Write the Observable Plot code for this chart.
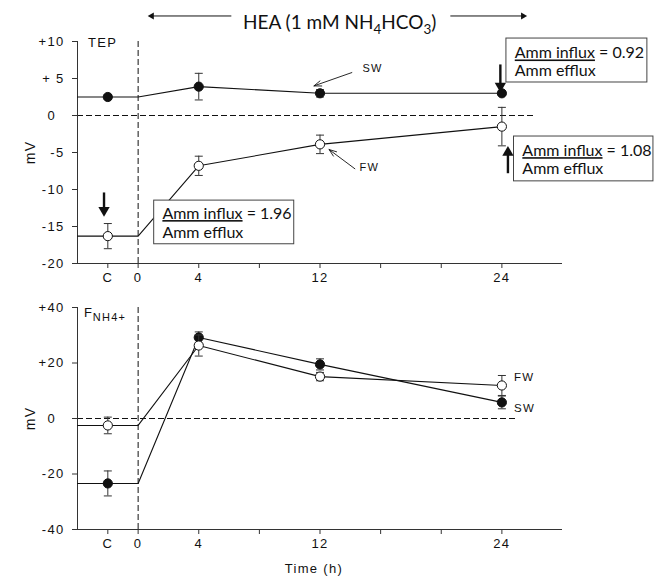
<!DOCTYPE html>
<html><head><meta charset="utf-8">
<script src="https://cdn.jsdelivr.net/npm/d3@7"></script>
<script src="https://cdn.jsdelivr.net/npm/@observablehq/plot@0.6"></script>
<style>
body{margin:0;background:#fff}
#chart{width:654px;height:583px;position:relative}
#chart svg{display:block;overflow:visible}
#chart svg text{letter-spacing:1.3px}
#chart g[font-family^="Lato"] text{letter-spacing:0}
</style></head><body><div id="chart"></div>
<script>
// ---- data ----
const xTicks = [-2, 0, 4, 8, 12, 16, 20, 24];
const xTickLabels = ["C", "0", "4", "", "12", "", "", "24"];
const sampleTimes = [-2, 4, 12, 24]; // -2 = control "C"
const tepSW = [2.5, 3.9, 3.0, 3.0];
const tepSWErr = [0.3, 1.8, 0.5, 0.3];
const tepFW = [-16.3, -6.8, -3.9, -1.5];
const tepFWErr = [1.7, 1.3, 1.25, 2.6];
const fluxSW = [-23.4, 29.2, 19.5, 5.8];
const fluxSWErr = [4.5, 2.0, 2.0, 2.3];
const fluxFW = [-2.5, 26.3, 15.1, 11.9];
const fluxFWErr = [3.0, 3.8, 1.5, 3.6];
const tepYTicks = [10, 5, 0, -5, -10, -15, -20];
const tepYLabels = ["+10", "+ 5", "0\u2007", "-5", "-10", "-15", "-20"];
const fluxYTicks = [40, 20, 0, -20, -40];
const fluxYLabels = ["+40", "+20", "0\u2007", "-20", "-40"];
const xDomain = [-4, 28];
const exposureStart = 0;
const titleText = "HEA (1 mM NH4HCO3)";
const ratioLabels = ["Amm influx = 1.96", "Amm influx = 0.92", "Amm influx = 1.08"];
const effluxLabel = "Amm efflux";

// ---- helpers ----
const ink = "#111";
function seriesLine(values) {
  const c = values[0];
  return [{x: xDomain[0], y: c}, {x: exposureStart, y: c},
    ...sampleTimes.slice(1).map((t, i) => ({x: t, y: values[i + 1]}))];
}
function points(values, errs) {
  return sampleTimes.map((t, i) => ({x: t, y: values[i], lo: values[i] - errs[i], hi: values[i] + errs[i]}));
}
const capSymbol = {draw(ctx, size) { const r = Math.sqrt(size / Math.PI); ctx.moveTo(-r, 0); ctx.lineTo(r, 0); }};
function lineMark(values) {
  return Plot.line(seriesLine(values), {x: "x", y: "y", stroke: ink, strokeWidth: 1.1});
}
function pointMarks(values, errs, filled) {
  const pts = points(values, errs);
  return [
    Plot.ruleX(pts, {x: "x", y1: "lo", y2: "hi", stroke: "#333", strokeWidth: 1}),
    Plot.dot(pts, {x: "x", y: "hi", symbol: capSymbol, r: 4, stroke: "#333", strokeWidth: 1}),
    Plot.dot(pts, {x: "x", y: "lo", symbol: capSymbol, r: 4, stroke: "#333", strokeWidth: 1}),
    Plot.dot(pts, {x: "x", y: "y", r: 4.6, fill: filled ? ink : "#fff", stroke: ink, strokeWidth: 1})
  ];
}
function arrowWithHead(x1, y1, x2, y2, rotate, sw, r) {
  return [
    Plot.link([0], {x1, y1, x2, y2, stroke: ink, strokeWidth: sw}),
    Plot.dot([0], {x: x2, y: y2, symbol: "triangle", r, rotate, fill: ink, stroke: "none"})
  ];
}
function box(x1, x2, y1, y2, tx, ty1, ty2, label) {
  return [
    Plot.rect([0], {x1, x2, y1, y2, fill: "#fff", stroke: "#444", strokeWidth: 1}),
    Plot.text([label], {x: tx, y: ty1, text: d => d, textAnchor: "start", fontFamily: "Lato", fontSize: 16, fill: ink}),
    Plot.text([effluxLabel], {x: tx, y: ty2, text: d => d, textAnchor: "start", fontFamily: "Lato", fontSize: 16, fill: ink})
  ];
}
const font = {fontFamily: "'Liberation Sans', Arial, sans-serif", fontSize: "13px", color: ink, background: "transparent"};
const xAxis = Plot.axisX({ticks: xTicks, tickFormat: d => xTickLabels[xTicks.indexOf(d)], tickSize: 5, tickPadding: 4, label: null, stroke: "#333"});

// ---- top panel: TEP ----
const topPlot = Plot.plot({
  width: 654, height: 290,
  marginLeft: 77, marginRight: 92, marginTop: 41, marginBottom: 27,
  x: {domain: xDomain}, y: {domain: [-20, 10]},
  style: font,
  marks: [
    Plot.ruleY([0], {x1: xDomain[0], x2: 26.1, stroke: ink, strokeDasharray: "6,3"}),
    Plot.ruleX([exposureStart], {y1: -20, y2: 10.1, stroke: ink, strokeDasharray: "6,3"}),
    xAxis,
    Plot.axisY({ticks: tepYTicks, tickFormat: d => tepYLabels[tepYTicks.indexOf(d)], tickSize: 5, tickPadding: 8,
      label: "mV", labelAnchor: "center", labelArrow: "none", labelOffset: 52, stroke: "#333"}),
    Plot.ruleX([xDomain[0]], {y1: -20, y2: 10, stroke: "#333"}),
    Plot.ruleY([-20], {x1: xDomain[0], x2: xDomain[1], stroke: "#333"}),
    lineMark(tepSW), lineMark(tepFW),
    ...box(1.06, 10.3, -11.5, -17.4, 1.6, -13.3, -15.8, ratioLabels[0]),
    ...box(24.3, 33.6, 10.4, 4.46, 24.85, 8.4, 6.0, ratioLabels[1]),
    ...box(24.8, 34.0, -2.84, -8.9, 25.35, -4.8, -7.2, ratioLabels[2]),
    ...pointMarks(tepSW, tepSWErr, true),
    ...pointMarks(tepFW, tepFWErr, false),
    Plot.text(["TEP"], {x: -3.3, y: 9.8, text: d => d, textAnchor: "start", fontSize: 13, fill: ink}),
    Plot.text(["SW"], {x: 14.8, y: 6.3, text: d => d, textAnchor: "start", fontSize: 11, fill: ink}),
    Plot.text(["FW"], {x: 14.6, y: -7.0, text: d => d, textAnchor: "start", fontSize: 11, fill: ink}),
    Plot.arrow([0], {x1: 14.1, y1: 5.8, x2: 11.6, y2: 4.0, stroke: ink, strokeWidth: 0.9, headLength: 13, headAngle: 40}),
    Plot.arrow([0], {x1: 14.3, y1: -7.2, x2: 12.6, y2: -4.6, stroke: ink, strokeWidth: 0.9, headLength: 13, headAngle: 40}),
    ...arrowWithHead(-2.25, -10.4, -2.25, -12.8, 180, 2.4, 4.2),
    ...arrowWithHead(23.9, 6.9, 23.9, 4.0, 180, 2.4, 4.2),
    ...arrowWithHead(24.4, -7.8, 24.4, -5.0, 0, 2.4, 4.2),
    ...arrowWithHead(6.15, 13.45, 0.9, 13.45, -90, 1, 2.6),
    ...arrowWithHead(20.6, 13.45, 25.4, 13.45, 90, 1, 2.6),
    Plot.text([titleText], {x: 13.3, y: 12.5, text: d => d, fontFamily: "Lato", fontSize: 19, fill: ink})
  ]
});

// ---- bottom panel: F_NH4+ ----
const bottomPlot = Plot.plot({
  width: 654, height: 293,
  marginLeft: 77, marginRight: 92, marginTop: 17, marginBottom: 54,
  x: {domain: xDomain}, y: {domain: [-40, 40]},
  style: font,
  marks: [
    Plot.ruleY([0], {x1: xDomain[0], x2: 25.0, stroke: ink, strokeDasharray: "6,3"}),
    Plot.ruleX([exposureStart], {y1: -40, y2: 40, stroke: ink, strokeDasharray: "6,3"}),
    xAxis,
    Plot.axisY({ticks: fluxYTicks, tickFormat: d => fluxYLabels[fluxYTicks.indexOf(d)], tickSize: 5, tickPadding: 8,
      label: "mV", labelAnchor: "center", labelArrow: "none", labelOffset: 52, stroke: "#333"}),
    Plot.ruleX([xDomain[0]], {y1: -40, y2: 40, stroke: "#333"}),
    Plot.ruleY([-40], {x1: xDomain[0], x2: xDomain[1], stroke: "#333"}),
    lineMark(fluxSW), lineMark(fluxFW),
    ...pointMarks(fluxSW, fluxSWErr, true),
    ...pointMarks(fluxFW, fluxFWErr, false),
    Plot.text(["F"], {x: -3.57, y: 38.0, text: d => d, textAnchor: "start", fontSize: 13, fill: ink}),
    Plot.text(["NH4+"], {x: -3.0, y: 36.3, text: d => d, textAnchor: "start", fontSize: 11, fill: ink}),
    Plot.text(["FW"], {x: 24.8, y: 14.8, text: d => d, textAnchor: "start", fontSize: 11.5, fill: ink}),
    Plot.text(["SW"], {x: 24.8, y: 3.6, text: d => d, textAnchor: "start", fontSize: 11.5, fill: ink}),
    Plot.text(["Time (h)"], {x: 11.6, frameAnchor: "bottom", dy: 43, text: d => d, fontSize: 13, fill: ink})
  ]
});

// rich text: subscripts in the title, underlined influx
function enrich(svg) {
  svg.querySelectorAll("text").forEach(t => {
    const s = t.textContent;
    if (s === titleText) {
      t.innerHTML = 'HEA (1 mM NH<tspan dy="5" font-size="13.5">4</tspan><tspan dy="-5">HCO</tspan><tspan dy="5" font-size="13.5">3</tspan><tspan dy="-5">)</tspan>';
    } else if (ratioLabels.includes(s)) {
      const rest = s.slice("Amm influx".length);
      t.innerHTML = '<tspan style="text-decoration:underline">Amm influx</tspan>' + rest;
    } else if (s === "mV") {
      t.setAttribute("font-size", "14");
    }
  });
}
enrich(topPlot); enrich(bottomPlot);
const chart = document.getElementById("chart");
chart.append(topPlot, bottomPlot);
</script></body></html>
